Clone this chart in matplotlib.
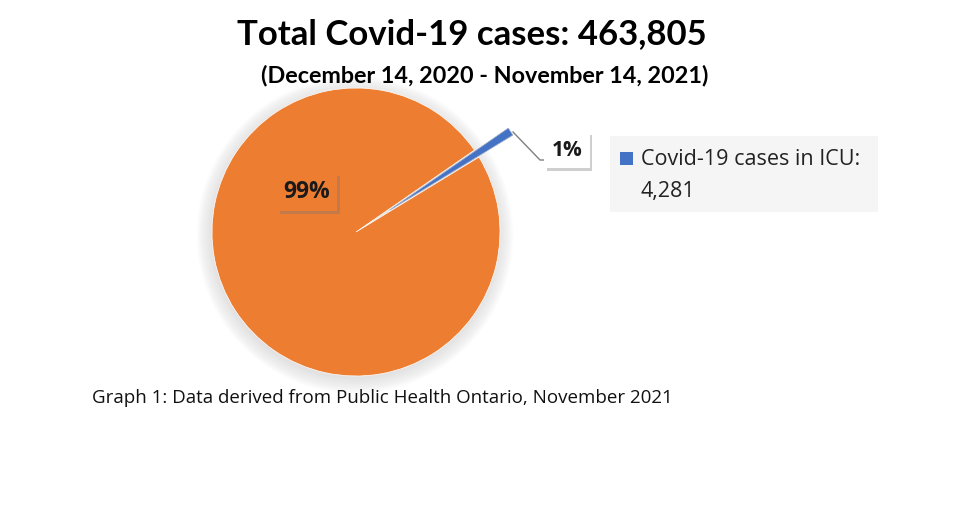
import matplotlib.pyplot as plt
import matplotlib.patheffects as pe
from matplotlib.patches import Circle, Rectangle

# data
total_cases = 463805
icu_cases = 4281
labels = ["Other cases", "Covid-19 cases in ICU:\n4,281"]
values = [total_cases - icu_cases, icu_cases]
colors = ["#ED7D31", "#4472C4"]

title = "Total Covid-19 cases: 463,805"
subtitle = "(December 14, 2020 - November 14, 2021)"
caption = "Graph 1: Data derived from Public Health Ontario, November 2021"

W, H = 956, 515
fig = plt.figure(figsize=(W / 100, H / 100), dpi=100)
ax = fig.add_axes([0, 0, 1, 1])

# pie in pixel coordinates (y up)
cx, cy, r = 356, H - 232, 144

# soft glow around the pie
for i in range(12):
    ax.add_patch(Circle((cx - 1, cy - 3), r + i * 1.3, color="#8c8c8c",
                        alpha=0.018, lw=0, zorder=0))

frac_icu = values[1] / sum(values)
start = 33 - 360 + 180 * frac_icu
wedges, _ = ax.pie(values, colors=colors, startangle=start, center=(cx, cy),
                   radius=r, explode=[0, 0.28 * r], counterclock=True,
                   wedgeprops=dict(linewidth=0.5, edgecolor="white"))
for w in wedges:
    w.set_zorder(2)
wedges[1].set_edgecolor("#9aa8c8")

ax.set_xlim(0, W)
ax.set_ylim(0, H)
ax.set_aspect("auto")
ax.axis("off")

shadow = [pe.SimplePatchShadow(offset=(2, -2), shadow_rgbFace="#777777", alpha=0.35),
          pe.Normal()]

pct = [v / sum(values) * 100 for v in values]

t1 = ax.text(307, H - 192, f"{pct[0]:.0f}%", fontsize=16.5, fontweight="bold",
             family="Open Sans", ha="center", va="center", zorder=5, color="#1a1a1a",
             bbox=dict(boxstyle="square,pad=0.3", fc="#ED7D31", ec="none"))
t1.get_bbox_patch().set_path_effects(shadow)

# leader line for small slice
ax.plot([513, 540, 548], [H - 132, H - 160, H - 160], color="#808080", lw=1, zorder=4)

t2 = ax.text(567, H - 150, f"{pct[1]:.0f}%", fontsize=15, fontweight="bold",
             family="Open Sans", ha="center", va="center", zorder=5, color="#1a1a1a",
             bbox=dict(boxstyle="square,pad=0.35", fc="white", ec="none"))
t2.get_bbox_patch().set_path_effects(shadow)

# legend
ax.add_patch(Rectangle((610, H - 212), 268, 76, fc="#F5F5F5", ec="none", zorder=1))
ax.add_patch(Rectangle((620, H - 165), 13, 13, fc=colors[1], ec="none", zorder=3))
for k, line in enumerate(labels[1].split("\n")):
    ax.text(641, H - 165 - 32 * k, line, fontsize=15.5, family="Open Sans",
            ha="left", va="baseline", zorder=3, color="#222222")

# titles
fig.text(472 / W, 1 - 44 / H, title, fontsize=25, fontweight="bold",
         family="Lato", ha="center", va="baseline")
fig.text(485 / W, 1 - 82 / H, subtitle, fontsize=16.8, fontweight="bold",
         family="Lato", ha="center", va="baseline")
fig.text(92 / W, 1 - 403 / H, caption, fontsize=13.5, family="Open Sans",
         ha="left", va="baseline", color="#111111")

fig.savefig("out.png", dpi=100)
